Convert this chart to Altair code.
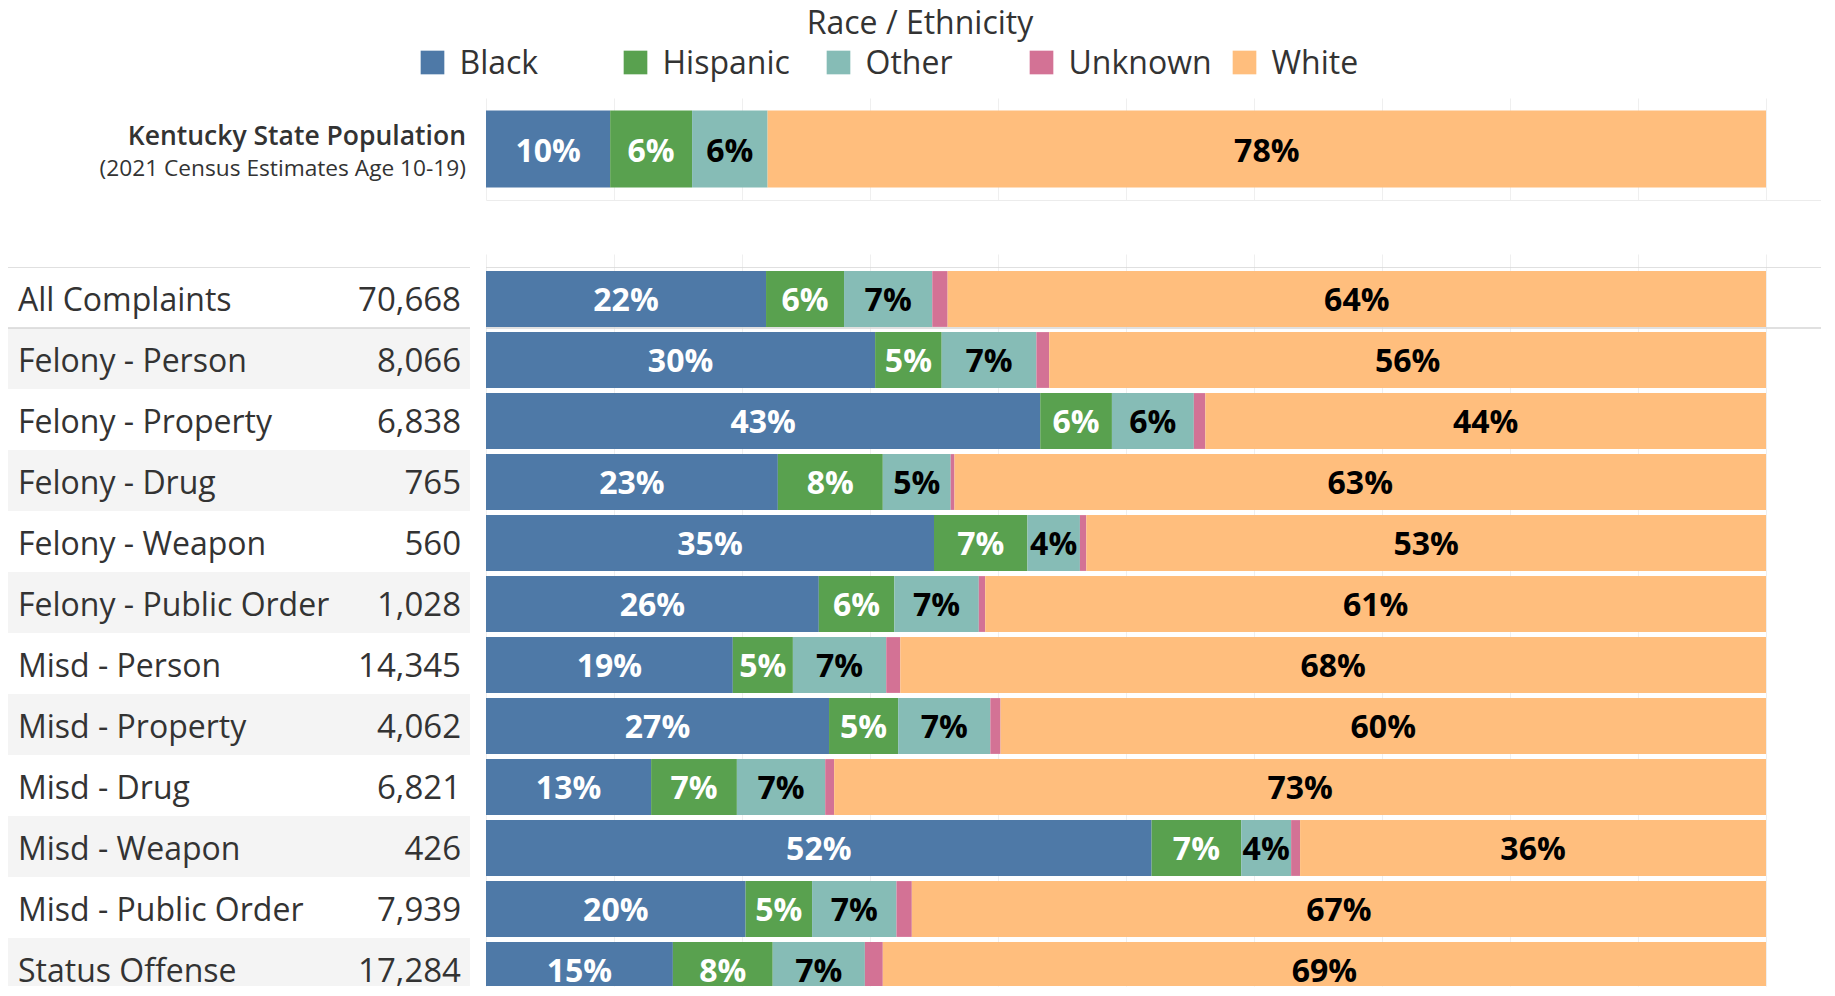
import altair as alt
import pandas as pd

FONT = "Open Sans"

# ---------------- data ----------------
races = ["Black", "Hispanic", "Other", "Unknown", "White"]
race_colors = ["#4e79a7", "#59a14f", "#86bcb6", "#d37295", "#ffbe7d"]
legend_title = "Race / Ethnicity"

pop_title = "Kentucky State Population"
pop_subtitle = "(2021 Census Estimates Age 10-19)"
pop_pct = [9.7, 6.4, 5.9, 0.0, 78.0]

categories = [
    "All Complaints", "Felony - Person", "Felony - Property", "Felony - Drug",
    "Felony - Weapon", "Felony - Public Order", "Misd - Person", "Misd - Property",
    "Misd - Drug", "Misd - Weapon", "Misd - Public Order", "Status Offense",
]
counts = [70668, 8066, 6838, 765, 560, 1028, 14345, 4062, 6821, 426, 7939, 17284]
pct_black = [21.9, 30.4, 43.3, 22.8, 35.0, 26.0, 19.3, 26.8, 12.9, 52.0, 20.3, 14.6]
pct_hispanic = [6.1, 5.2, 5.6, 8.2, 7.3, 5.9, 4.7, 5.4, 6.7, 7.0, 5.2, 7.8]
pct_other = [6.9, 7.4, 6.4, 5.3, 4.1, 6.6, 7.3, 7.2, 6.9, 3.9, 6.6, 7.2]
pct_unknown = [1.2, 1.0, 0.9, 0.3, 0.5, 0.5, 1.1, 0.8, 0.7, 0.7, 1.2, 1.4]
pct_white = [64.0, 56.0, 43.8, 63.4, 53.1, 61.0, 67.7, 59.8, 72.8, 36.4, 66.8, 69.0]

grid_values = [i / 10 for i in range(11)]

# ---------------- tables ----------------
series = [pct_black, pct_hispanic, pct_other, pct_unknown, pct_white]
rows = []
for i, c in enumerate(categories):
    for k, r in enumerate(races):
        rows.append({"cat": c, "race": r, "order": k, "pct": series[k][i]})
df_bot = pd.DataFrame(rows)

df_top = pd.DataFrame({"grp": [pop_title] * len(races), "race": races,
                       "order": list(range(len(races))), "pct": pop_pct})

df_cats = pd.DataFrame({"cat": categories, "count": counts, "row": list(range(len(categories)))})
df_toptext = pd.DataFrame({"line1": [pop_title], "line2": [pop_subtitle]})
df_legend = pd.DataFrame({"race": races})
df_legtitle = pd.DataFrame({"t": [legend_title]})

# ---------------- layout constants ----------------
LEFT_W = 462
GAP = 16
BAR_W = 1335
FULL_W = LEFT_W + GAP + BAR_W
PX_PER_100 = 1280
XMAX = BAR_W / PX_PER_100
LEG_H = 79
TOP_H = 102
BOT_H = 719
ROW_STEP = 61
LEG_STEP = 203

xscale = alt.Scale(domain=[0, XMAX], nice=False, zero=True)
cscale = alt.Scale(domain=races, range=race_colors)
grid_axis = alt.Axis(values=grid_values, grid=True, gridColor="#efefef", gridWidth=1,
                     labels=False, ticks=False, domain=False, title=None)
white_text = "datum.race == 'Black' || datum.race == 'Hispanic'"

# ---------------- legend (custom) ----------------
leg_x = alt.X("race:N", scale=alt.Scale(domain=races, range=[323, 323 + LEG_STEP * len(races)],
                                        paddingInner=0, paddingOuter=0), axis=None)
leg_sq = alt.Chart(df_legend).mark_square(size=560, opacity=1, strokeWidth=0).encode(
    x=leg_x, y=alt.value(53.5), color=alt.Color("race:N", scale=cscale, legend=None))
leg_lab = alt.Chart(df_legend).mark_text(
    font=FONT, fontSize=32, align="left", baseline="middle", dx=27, color="#333333"
).encode(x=leg_x, y=alt.value(54.5), text="race:N")
leg_tit = alt.Chart(df_legtitle).mark_text(
    font=FONT, fontSize=32, align="center", baseline="alphabetic", color="#333333"
).encode(x=alt.value(912), y=alt.value(25), text="t:N")
legend_chart = alt.layer(leg_sq, leg_lab, leg_tit).properties(width=FULL_W, height=LEG_H)

# ---------------- top panel ----------------
top_base = alt.Chart(df_top).transform_stack(
    stack="pct", as_=["x0", "x1"], groupby=["grp"], offset="normalize",
    sort=[alt.SortField("order")]
).transform_calculate(
    mid="(datum.x0 + datum.x1) / 2",
    label="format(datum.pct, '.0f') + '%'"
)
y_top = alt.Y("grp:N", scale=alt.Scale(paddingOuter=0.162, paddingInner=0), axis=None)

top_bars = top_base.mark_bar().encode(
    x=alt.X("x0:Q", scale=xscale,
            axis=alt.Axis(values=grid_values, grid=True, gridColor="#efefef", labels=False,
                          ticks=False, domain=True, domainColor="#ececec", title=None)),
    x2="x1:Q",
    y=y_top,
    color=alt.Color("race:N", scale=cscale, legend=None),
)
top_labels = top_base.transform_filter("datum.pct >= 1").mark_text(
    font=FONT, fontSize=32, fontWeight="bold", baseline="middle", align="center", yOffset=2.5
).encode(
    x=alt.X("mid:Q", scale=xscale),
    y=y_top,
    text="label:N",
    color=alt.condition(white_text, alt.value("white"), alt.value("black")),
)
top_chart = alt.layer(top_bars, top_labels).properties(width=BAR_W, height=TOP_H)

top_left = alt.layer(
    alt.Chart(df_toptext).mark_text(font=FONT, fontSize=26.5, fontWeight=600, align="right",
                                    baseline="alphabetic", color="#333333")
    .encode(x=alt.value(LEFT_W - 4), y=alt.value(47), text="line1:N"),
    alt.Chart(df_toptext).mark_text(font=FONT, fontSize=22.7, align="right",
                                    baseline="alphabetic", color="#333333")
    .encode(x=alt.value(LEFT_W - 4), y=alt.value(78), text="line2:N"),
).properties(width=LEFT_W, height=TOP_H)

# ---------------- bottom panel ----------------
band = alt.Scale(domain=categories, range=[0, ROW_STEP * len(categories)],
                 paddingInner=0, paddingOuter=0)
y_bot = alt.Y("cat:N", scale=band, axis=None)
y_bot_edge = alt.Y("cat:N", scale=band, axis=None, bandPosition=0)

bot_base = alt.Chart(df_bot).transform_stack(
    stack="pct", as_=["x0", "x1"], groupby=["cat"], offset="normalize",
    sort=[alt.SortField("order")]
).transform_calculate(
    mid="(datum.x0 + datum.x1) / 2",
    label="format(datum.pct, '.0f') + '%'"
)

bot_rules = alt.Chart(df_cats).transform_filter("datum.row <= 1").mark_rule(
    color="#d6d6d6", strokeWidth=1.5, clip=True
).encode(y=y_bot_edge)

bot_bars = bot_base.mark_bar(height=alt.RelativeBandSize(0.915), yOffset=1.5, clip=True).encode(
    x=alt.X("x0:Q", scale=xscale, axis=grid_axis),
    x2="x1:Q",
    y=y_bot,
    color=alt.Color("race:N", scale=cscale, legend=None),
)
bot_labels = bot_base.transform_filter("datum.race != 'Unknown'").mark_text(
    font=FONT, fontSize=32, fontWeight="bold", baseline="middle", align="center",
    yOffset=3
).encode(
    x=alt.X("mid:Q", scale=xscale),
    y=y_bot,
    text="label:N",
    color=alt.condition(white_text, alt.value("white"), alt.value("black")),
)
bot_chart = alt.layer(bot_rules, bot_bars, bot_labels).properties(width=BAR_W, height=BOT_H)

left_bg = alt.Chart(df_cats).transform_filter("datum.row % 2 == 1").mark_rect(
    color="#f4f4f4", clip=True
).encode(y=y_bot, x=alt.value(0), x2=alt.value("width"))
left_rules = alt.Chart(df_cats).transform_filter("datum.row <= 1").mark_rule(
    color="#d6d6d6", strokeWidth=1.5, clip=True
).encode(y=y_bot_edge)
left_names = alt.Chart(df_cats).mark_text(
    font=FONT, fontSize=32, align="left", baseline="middle", color="#333333", yOffset=3
).encode(y=y_bot, x=alt.value(10), text="cat:N")
left_counts = alt.Chart(df_cats).mark_text(
    font=FONT, fontSize=33, align="right", baseline="middle", color="#333333", yOffset=3
).encode(y=y_bot, x=alt.value(LEFT_W - 9), text=alt.Text("count:Q", format=",d"))
bot_left = alt.layer(left_bg, left_rules, left_names, left_counts).properties(
    width=LEFT_W, height=BOT_H)

# ---------------- assemble ----------------
top_row = alt.hconcat(top_left, top_chart, spacing=GAP)
bot_row = alt.hconcat(bot_left, bot_chart, spacing=GAP)
panels = alt.vconcat(top_row, bot_row, spacing=67)

chart = alt.vconcat(legend_chart, panels, spacing=10).resolve_scale(
    x="independent", y="independent"
).properties(
    padding=0, background="white"
).configure_view(stroke=None)

chart.save("out.html", embed_options={"renderer": "svg", "actions": False})
